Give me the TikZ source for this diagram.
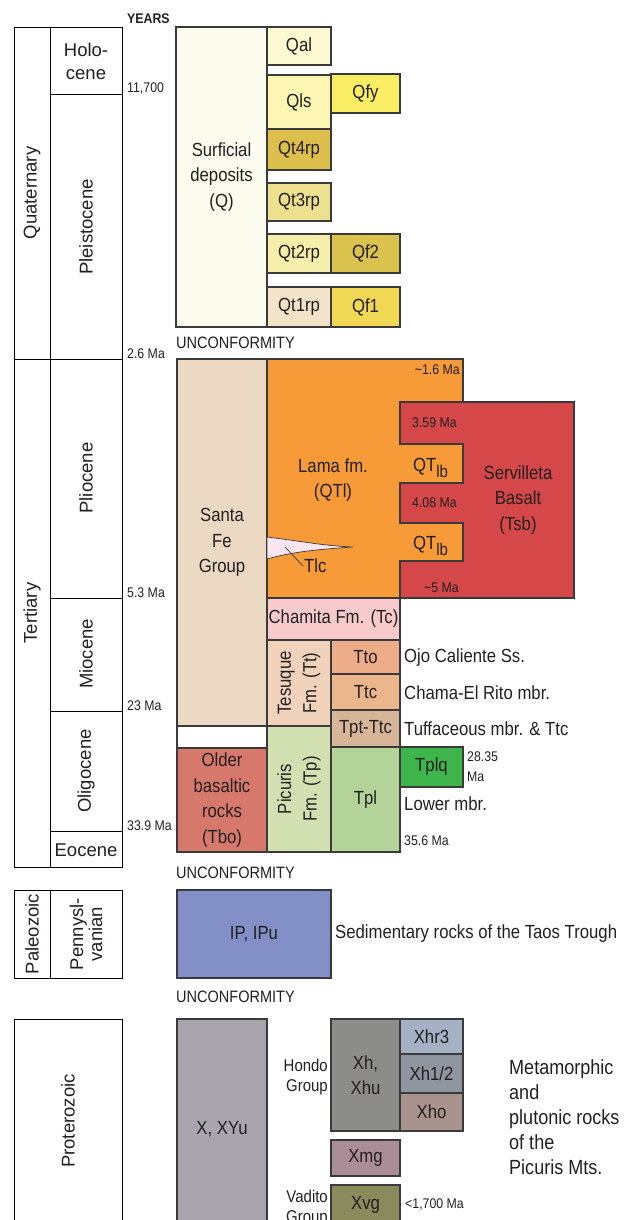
\documentclass[tikz,border=0pt]{standalone}
\usepackage{fontspec}
\setmainfont{Liberation Sans}[FakeStretch=0.88]
\newfontfamily\eraface{Liberation Sans}
\usepackage{tikz}
\definecolor{ink}{HTML}{231F20}
\definecolor{boxline}{HTML}{3A3A3A}
\definecolor{csurf}{HTML}{FBFBEE}
\definecolor{cqal}{HTML}{FDF9D2}
\definecolor{cqls}{HTML}{FDF5B3}
\definecolor{cqfy}{HTML}{F8ED63}
\definecolor{cqtfour}{HTML}{DDBF4E}
\definecolor{cqtthree}{HTML}{EDE18F}
\definecolor{cqttwo}{HTML}{F6EEAB}
\definecolor{cqftwo}{HTML}{D9C24E}
\definecolor{cqtone}{HTML}{F3E3C8}
\definecolor{cqfone}{HTML}{F0D855}
\definecolor{csantafe}{HTML}{EBD9C4}
\definecolor{clama}{HTML}{F79B39}
\definecolor{ctsb}{HTML}{D54748}
\definecolor{ctlc}{HTML}{FCE6F0}
\definecolor{ctc}{HTML}{F9CACC}
\definecolor{cttq}{HTML}{F1D3BC}
\definecolor{ctto}{HTML}{EDAD89}
\definecolor{cttc}{HTML}{EBB68C}
\definecolor{ctpt}{HTML}{D7B598}
\definecolor{ctbo}{HTML}{D7786C}
\definecolor{ctp}{HTML}{D3E0B1}
\definecolor{ctpl}{HTML}{B4D398}
\definecolor{ctplq}{HTML}{3DB54A}
\definecolor{cip}{HTML}{8390C8}
\definecolor{cxyu}{HTML}{A8A6AC}
\definecolor{cxh}{HTML}{8C8C8B}
\definecolor{cxhr}{HTML}{A4B0C3}
\definecolor{cxhone}{HTML}{8E959E}
\definecolor{cxho}{HTML}{A9938F}
\definecolor{cxmg}{HTML}{AB8D97}
\definecolor{cxvg}{HTML}{8A8A5C}
\newcommand\unitfont{\fontsize{19}{25.5}\selectfont}
\newcommand\agefont{\fontsize{14}{19}\selectfont}
\newcommand\erafont{\eraface\fontsize{18.5}{23}\selectfont}
\newcommand\lbsub{\raisebox{-6pt}{\fontsize{17}{17}\selectfont lb}}
\tikzset{
  agebox/.style={draw=black, line width=0.9pt},
  unitbox/.style={draw=boxline, line width=1.2pt},
  unitlbl/.style={font=\unitfont, text=ink, align=center, inner sep=0pt},
  eralbl/.style={font=\erafont, text=ink, align=center, inner sep=0pt},
  agelbl/.style={font=\agefont, text=ink, inner sep=0pt, anchor=west},
  notelbl/.style={font=\unitfont, text=ink, inner sep=0pt, anchor=west}
}
\begin{document}
\begin{tikzpicture}[x=1pt, y=-1pt]
    \useasboundingbox (0,0) rectangle (640,1220);
    \clip (0,0) rectangle (640,1220);
    \draw[agebox] (14,27) rectangle (122,359);
    \draw[agebox] (50,27) -- (50,359);
    \draw[agebox] (50,94) -- (122,94);
    \draw[agebox] (14,359) rectangle (122,867);
    \draw[agebox] (50,359) -- (50,867);
    \foreach \y in {598,711,831}{\draw[agebox] (50,\y) -- (122,\y);}
    \draw[agebox] (14,890) rectangle (122,978);
    \draw[agebox] (50,890) -- (50,978);
    \draw[agebox] (14,1019) rectangle (122,1240);
    \node[eralbl, rotate=90] (quat) at (32,193) {Quaternary};
    \node[eralbl] (holo) at (86,61) {Holo-\\cene};
    \node[eralbl, rotate=90] (pleist) at (86,227) {Pleistocene};
    \node[eralbl, rotate=90] (tert) at (32,613) {Tertiary};
    \node[eralbl, rotate=90] (plio) at (86,478) {Pliocene};
    \node[eralbl, rotate=90] (mio) at (86,654) {Miocene};
    \node[eralbl, rotate=90] (oligo) at (86,771) {Oligocene};
    \node[eralbl] (eoc) at (86,850) {Eocene};
    \node[eralbl, rotate=90] (paleo) at (32,934) {Paleozoic};
    \node[eralbl, rotate=90, font=\eraface\fontsize{18.5}{19}\selectfont] (penn) at (86,934) {Pennysl-\\vanian};
    \node[eralbl, rotate=90] (prot) at (68,1121) {Proterozoic};
    \node[agelbl, font=\bfseries\agefont] (years) at (127,19) {YEARS};
    \node[agelbl] (aholo) at (127,89) {11,700};
    \node[agelbl] (aquat) at (127,354) {2.6 Ma};
    \node[agelbl] (aplio) at (127,593) {5.3 Ma};
    \node[agelbl] (amio) at (127,706) {23 Ma};
    \node[agelbl] (aoligo) at (127,826) {33.9 Ma};
    \foreach \xa/\ya/\xb/\yb/\col/\txt [count=\n] in {
        176/27/267/327/csurf/{Surficial\\deposits\\(Q)},
        267/27/331/65/cqal/Qal, 267/75/331/129/cqls/Qls,
        331/74/400/113/cqfy/Qfy, 267/129/331/170/cqtfour/Qt4rp,
        267/183/331/221/cqtthree/Qt3rp, 267/234/331/273/cqttwo/Qt2rp,
        331/234/400/273/cqftwo/Qf2, 267/287/331/327/cqtone/Qt1rp,
        331/287/400/327/cqfone/Qf1,
        177/359/267/726/csantafe/{Santa\\Fe\\Group},
        177/726/267/748/white/{},
        177/748/267/852/ctbo/{Older\\basaltic\\rocks\\(Tbo)},
        267/598/400/640/ctc/{Chamita Fm. (Tc)},
        267/640/331/726/cttq/{}, 267/726/331/852/ctp/{},
        331/640/400/674/ctto/Tto, 331/674/400/710/cttc/Ttc,
        331/710/400/747/ctpt/Tpt-Ttc, 331/747/400/852/ctpl/Tpl,
        400/747/463/787/ctplq/Tplq,
        177/890/331/978/cip/{IP, IPu},
        177/1019/267/1240/cxyu/{X, XYu},
        331/1019/400/1131/cxh/{Xh,\\Xhu},
        400/1019/463/1054/cxhr/Xhr3, 400/1054/463/1093/cxhone/{Xh1\slash2},
        400/1093/463/1131/cxho/Xho, 331/1140/400/1176/cxmg/Xmg,
        331/1185/400/1225/cxvg/Xvg}{
        \filldraw[unitbox, fill=\col] (\xa,\ya) rectangle (\xb,\yb);
        \node[unitlbl] (u\n) at ({(\xa+\xb)/2},{(\ya+\yb)/2}) {\txt};
    }
    \node[unitlbl, rotate=90] (tesuque) at (299,683) {Tesuque\\Fm. (Tt)};
    \node[unitlbl, rotate=90] (picuris) at (299,789) {Picuris\\Fm. (Tp)};
    \filldraw[unitbox, fill=clama] (267,359) rectangle (463,598);
    \filldraw[unitbox, fill=ctsb] (400,402) -- (574,402) -- (574,598) -- (400,598)
        -- (400,561) -- (463,561) -- (463,523) -- (400,523) -- (400,483)
        -- (463,483) -- (463,444) -- (400,444) -- cycle;
    \filldraw[draw=boxline, line width=0.7pt, fill=ctlc] (267,537)
        .. controls (300,541) and (325,546) .. (353,547)
        .. controls (325,549) and (295,551) .. (267,559) -- cycle;
    \coordinate (tlcend) at (285,547);
    \node[notelbl, inner sep=1pt] (tlc) at (303,566) {Tlc};
    \draw[boxline, line width=0.7pt] (tlcend) -- (tlc.west);
    \node[unitlbl] (lama) at (333,480) {Lama fm.\\(QTl)};
    \node[unitlbl] (tsb) at (518,500) {Servilleta\\Basalt\\(Tsb)};
    \node[agelbl, anchor=east] (alama) at (460,370) {\textasciitilde1.6 Ma};
    \node[agelbl] (atsbtop) at (412,423) {3.59 Ma};
    \node[agelbl] (atsbmid) at (412,503) {4.08 Ma};
    \node[agelbl, anchor=east] (atsbbot) at (459,588) {\textasciitilde5 Ma};
    \node[notelbl, anchor=base west] (qtlbtop) at (413,471) {QT\lbsub};
    \node[notelbl, anchor=base west] (qtlbbot) at (413,549) {QT\lbsub};
    \node[agelbl] (unconfq) at (176,343) {\fontsize{16.5}{19}\selectfont UNCONFORMITY};
    \node[agelbl] (unconft) at (176,873) {\fontsize{16.5}{19}\selectfont UNCONFORMITY};
    \node[agelbl] (unconfp) at (176,997) {\fontsize{16.5}{19}\selectfont UNCONFORMITY};
    \node[notelbl] (ojo) at (404,658) {Ojo Caliente Ss.};
    \node[notelbl] (chama) at (404,693) {Chama-El Rito mbr.};
    \node[notelbl] (tuff) at (404,729) {Tuffaceous mbr. \& Ttc};
    \node[agelbl, align=left, font=\fontsize{14}{20}\selectfont] (aplq) at (467,767) {28.35\\Ma};
    \node[notelbl] (lower) at (404,804) {Lower mbr.};
    \node[agelbl] (atpl) at (404,841) {35.6 Ma};
    \node[notelbl] (taos) at (335,934) {Sedimentary rocks of the Taos Trough};
    \node[agelbl, anchor=east, align=right, font=\fontsize{17}{20}\selectfont] (hondo) at (328,1077) {Hondo\\Group};
    \node[agelbl, anchor=east, align=right, font=\fontsize{17}{20}\selectfont] (vadito) at (328,1208) {Vadito\\Group};
    \node[agelbl] (axvg) at (405,1204) {\textless1,700 Ma};
    \node[notelbl, align=left, font=\fontsize{20.5}{25}\selectfont] (meta) at (509,1117)
        {Metamorphic\\and\\plutonic rocks\\of the\\Picuris Mts.};
\end{tikzpicture}
\end{document}
